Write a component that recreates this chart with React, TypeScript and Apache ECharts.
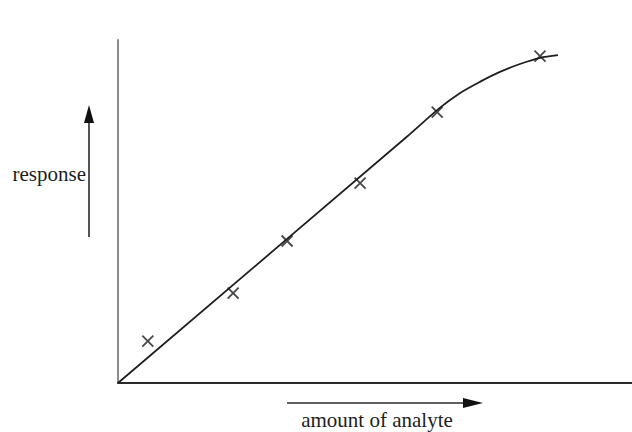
import React, { useEffect, useRef } from "react";
import * as echarts from "echarts";

const curveX = [0, 5.62, 6.26, 6.65, 7.04, 7.43, 7.82, 8.21, 8.56];
const curveY = [0, 7.18, 8.02, 8.45, 8.78, 9.07, 9.3, 9.48, 9.56];
const pointX = [0.58, 2.24, 3.29, 4.71, 6.21, 8.21];
const pointY = [1.22, 2.62, 4.14, 5.83, 7.9, 9.53];
const yLabel = "response";
const xLabel = "amount of analyte";

export default function App() {
  const ref = useRef<HTMLDivElement>(null);
  useEffect(() => {
    document.body.style.margin = "0";
    const chart = echarts.init(ref.current!, null, { renderer: "svg" });
    const font = "'Liberation Serif', 'Times New Roman', serif";
    chart.setOption({
      animation: false,
      backgroundColor: "#ffffff",
      grid: { left: 118, right: 0, top: 40, bottom: 49 },
      xAxis: {
        type: "value",
        min: 0,
        max: 10,
        axisLine: { show: true, lineStyle: { color: "#2a2a2a", width: 2 } },
        axisTick: { show: false },
        axisLabel: { show: false },
        splitLine: { show: false },
      },
      yAxis: {
        type: "value",
        min: 0,
        max: 10,
        axisLine: { show: true, lineStyle: { color: "#8a8a8a", width: 2 } },
        axisTick: { show: false },
        axisLabel: { show: false },
        splitLine: { show: false },
      },
      series: [
        {
          type: "line",
          data: curveX.map((x, i) => [x, curveY[i]]),
          smooth: 0.3,
          symbol: "none",
          lineStyle: { color: "#1e1e1e", width: 1.8 },
        },
        {
          type: "scatter",
          data: pointX.map((x, i) => [x, pointY[i]]),
          symbol: "path://M0,0L10,10M10,0L0,10",
          symbolSize: 11,
          itemStyle: { color: "none", borderColor: "#1a1a1a", borderWidth: 1.8 },
        },
      ],
      graphic: [
        { type: "line", shape: { x1: 89, y1: 237, x2: 89, y2: 118 }, style: { stroke: "#2a2a2a", lineWidth: 1.6 } },
        { type: "polygon", shape: { points: [[89, 105], [84, 123], [94, 123]] }, style: { fill: "#111" } },
        { type: "line", shape: { x1: 287, y1: 403, x2: 468, y2: 403 }, style: { stroke: "#2a2a2a", lineWidth: 1.6 } },
        { type: "polygon", shape: { points: [[483, 403], [463, 398], [463, 408]] }, style: { fill: "#111" } },
        {
          type: "text",
          x: 86,
          y: 174,
          style: { text: yLabel, font: `21px ${font}`, fill: "#1e1e1e", align: "right", verticalAlign: "middle" },
        },
        {
          type: "text",
          x: 377,
          y: 420,
          style: { text: xLabel, font: `21px ${font}`, fill: "#1e1e1e", align: "center", verticalAlign: "middle" },
        },
      ],
    });
    return () => chart.dispose();
  }, []);
  return <div ref={ref} style={{ width: 632, height: 432 }} />;
}
